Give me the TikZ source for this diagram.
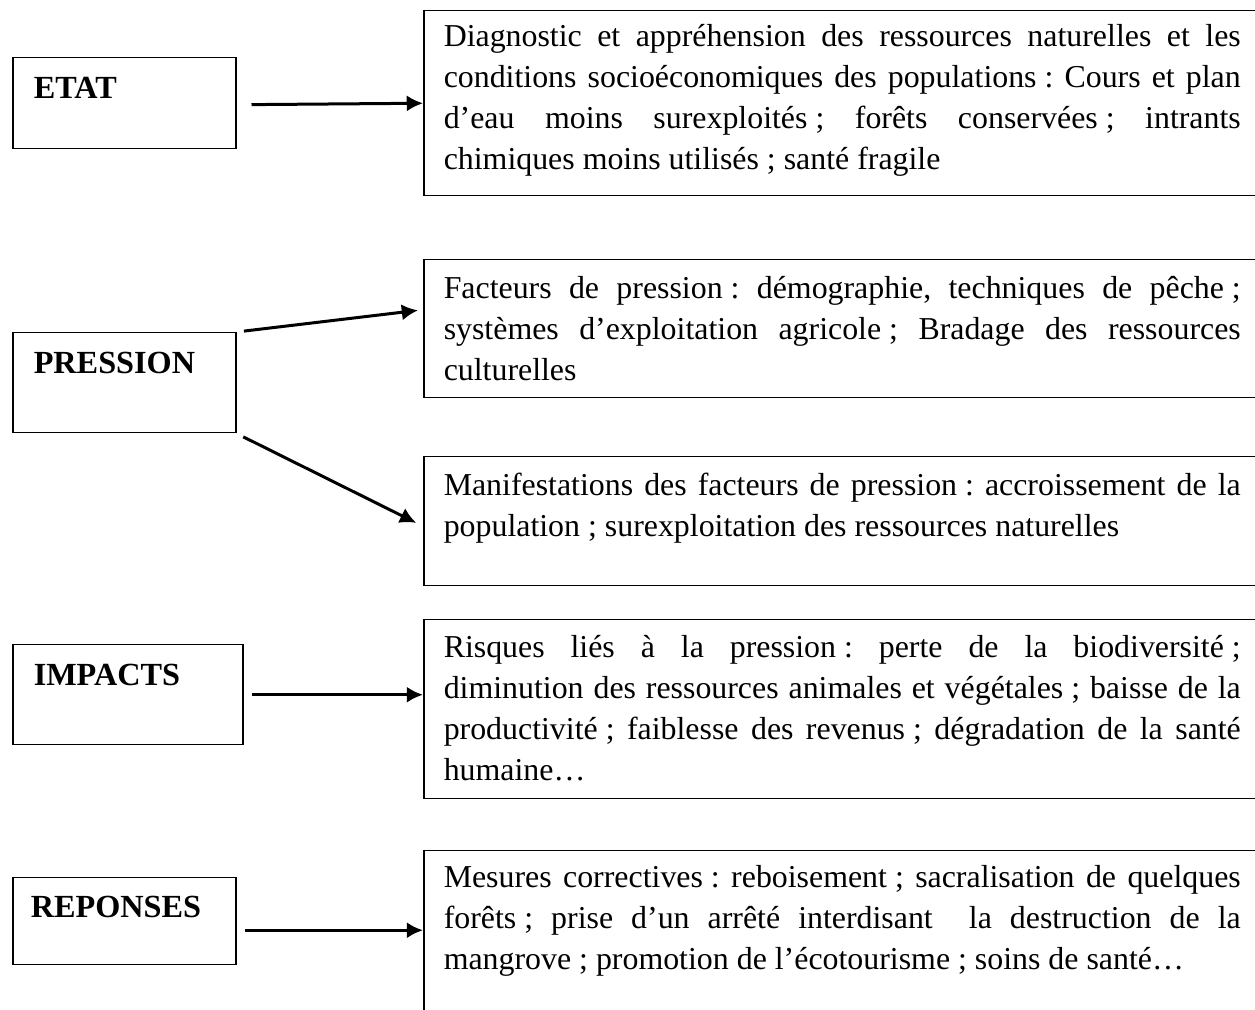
\documentclass[tikz,border=0pt]{standalone}
\usepackage{fontspec}
\setmainfont{Liberation Serif}
\usetikzlibrary{arrows.meta}
\newcommand{\esp}{\nobreak\hspace{.25em}}
\frenchspacing

\begin{document}
\begin{tikzpicture}[x=0.4pt, y=-0.4pt,
		etape/.style={draw, line width=0.6pt, anchor=north west, align=left, inner ysep=0pt, text height=16.4pt, font=\bfseries\fontsize{12.9}{14}\selectfont},
		bloc/.style={draw, line width=0.6pt, anchor=north west, align=justify, text width=318.8pt, inner xsep=8pt, inner ysep=0pt, font=\fontsize{12.75}{16.4}\selectfont},
		fleche/.style={-{Latex[length=6.5pt, width=6.5pt]}, line width=1.2pt}]
		\useasboundingbox (0,0) rectangle (1255,1010);
		\clip (0,0) rectangle (1255,1010);
		% etapes
		\node[etape, text width=72.4pt, inner xsep=8.4pt, text depth=20pt] (etat) at (12,57) {ETAT};
		\node[etape, text width=72.4pt, inner xsep=8.4pt, text depth=23.6pt] (pression) at (12,332) {PRESSION};
		\node[etape, text width=75.2pt, inner xsep=8.4pt, text depth=23.6pt] (impacts) at (12,644) {IMPACTS};
		\node[etape, text width=74.8pt, inner xsep=7.2pt, text height=16pt, text depth=18.8pt] (reponses) at (12,877) {REPONSES};
		% textes
		\node[bloc, text height=14.4pt, text depth=59.6pt] (diag) at (423,10) {Diagnostic et appréhension des ressources naturelles et les\linebreak conditions socioéconomiques des populations\esp: Cours et plan\linebreak d’eau moins surexploités\esp; forêts conservées\esp; intrants\linebreak chimiques moins utilisés\esp; santé fragile};
		\node[bloc, text height=15.6pt, text depth=39.6pt] (fact) at (423,259) {Facteurs de pression\esp: démographie, techniques de pêche\esp;\linebreak systèmes d’exploitation agricole\esp; Bradage des ressources\linebreak culturelles};
		\node[bloc, text height=15.6pt, text depth=36pt] (manif) at (423,456) {Manifestations des facteurs de pression\esp: accroissement de la\linebreak population\esp; surexploitation des ressources naturelles};
		\node[bloc, text height=15.2pt, text depth=56.4pt] (risq) at (423,619) {Risques liés à la pression\esp: perte de la biodiversité\esp;\linebreak diminution des ressources animales et végétales\esp; baisse de la\linebreak productivité\esp; faiblesse des revenus\esp; dégradation de la santé\linebreak humaine…};
		\node[bloc, text height=14.8pt, text depth=80pt] (mes) at (423,850) {Mesures correctives\esp: reboisement\esp; sacralisation de quelques\linebreak forêts\esp; prise d’un arrêté interdisant\ \ la destruction de la\linebreak mangrove\esp; promotion de l’écotourisme\esp; soins de santé…};
		% fleches
		\draw[fleche, shorten <=6pt] ([yshift=-0.6pt]etat.east) -- (diag.west);
		\draw[fleche, shorten <=3pt, shorten >=2pt] (pression.north east) -- ([yshift=7.6pt]fact.west);
		\draw[fleche, shorten <=3pt, shorten >=3pt] (pression.south east) -- ([yshift=-2pt]manif.west);
		\draw[fleche, shorten <=3.2pt] (impacts.east) -- (impacts.east -| risq.west);
		\draw[fleche, shorten <=3.2pt] ([yshift=-3.6pt]reponses.east) -- ([yshift=-3.6pt]reponses.east -| mes.west);
	\end{tikzpicture}
\end{document}
